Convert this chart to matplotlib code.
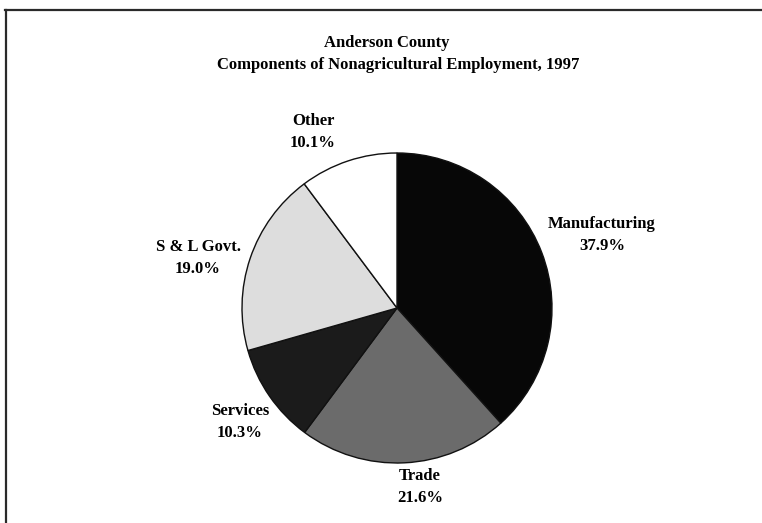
import matplotlib
matplotlib.use('Agg')
import matplotlib.pyplot as plt

# Data (clockwise from 12 o'clock)
categories = ['Manufacturing', 'Trade', 'Services', 'S & L Govt.', 'Other']
shares = [37.9, 21.6, 10.3, 19.0, 10.1]
title_lines = ['Anderson County', 'Components of Nonagricultural Employment, 1997']

# Styling: fill colours and label centres (pixels from top-left)
colors = ['#070707', '#6b6b6b', '#1b1b1b', '#dddddd', '#ffffff']
label_px = [(602, 235), (420, 487), (240, 422), (198, 258), (313, 132)]

plt.rcParams['font.family'] = ['Liberation Serif', 'DejaVu Serif']
plt.rcParams['font.weight'] = 'bold'

W, H = 762, 523
fig = plt.figure(figsize=(W / 100, H / 100), dpi=100)

# Pie axes: centre at (397, 308) px, radius ~155 px
cx, cy, r = 397, 308, 155
ax = fig.add_axes([(cx - r) / W, (H - cy - r) / H, 2 * r / W, 2 * r / H])
wedges, _ = ax.pie(shares, colors=colors, startangle=90, counterclock=False,
                   wedgeprops=dict(edgecolor='#111111', linewidth=1.0))
ax.set_xlim(-1, 1)
ax.set_ylim(-1, 1)
ax.axis('off')

# Category labels
for cat, val, (px, py) in zip(categories, shares, label_px):
    fig.text(px / W, 1 - py / H, f'{cat}\n{val:.1f}%', ha='center', va='center',
             fontsize=12, fontweight='bold', linespacing=1.55)

# Titles
fig.text(387 / W, 1 - 43 / H, title_lines[0], ha='center', va='center',
         fontsize=12, fontweight='bold')
fig.text(398 / W, 1 - 65 / H, title_lines[1], ha='center', va='center',
         fontsize=12, fontweight='bold')

# Frame lines (left and top, as in the scanned page)
fig.add_artist(plt.Line2D([5.5 / W, 5.5 / W], [0, 1 - 9.5 / H], color='#2a2a2a', lw=1.6))
fig.add_artist(plt.Line2D([5 / W, 1], [1 - 9.5 / H, 1 - 9.5 / H], color='#2a2a2a', lw=1.6))

fig.savefig('out.png', dpi=100, facecolor='white')
